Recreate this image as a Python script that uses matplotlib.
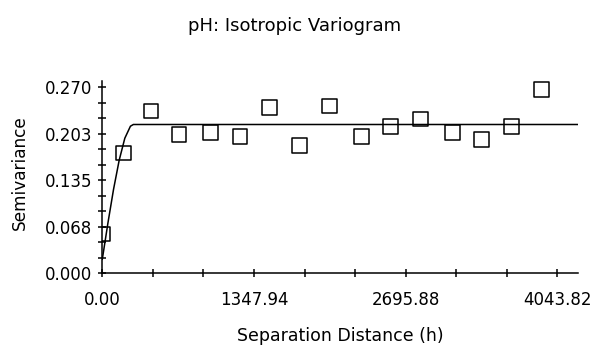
import matplotlib
matplotlib.use("Agg")
import matplotlib.pyplot as plt
from matplotlib.ticker import FixedLocator, FixedFormatter

plt.rcParams['font.family'] = ['DejaVu Sans']

# Experimental semivariogram (lag distance, semivariance)
lag_distance = [0, 190, 433, 682, 961, 1225, 1488, 1755, 2020, 2302, 2562,
                2829, 3111, 3372, 3636, 3903]
semivariance = [0.057, 0.1744, 0.2354, 0.2018, 0.2042, 0.1988, 0.2408, 0.1857,
                0.2427, 0.1988, 0.2130, 0.2237, 0.2047, 0.1940, 0.2130, 0.2671]

# Fitted model curve
model_distance = [0, 50, 100, 150, 200, 250, 276, 4230]
model_gamma = [0.020, 0.0727, 0.1218, 0.164, 0.196, 0.2135, 0.216, 0.216]

x_major = [0.00, 1347.94, 2695.88, 4043.82]
x_major_labels = ["0.00", "1347.94", "2695.88", "4043.82"]
y_major = [0.0, 0.0675, 0.135, 0.2025, 0.270]
y_major_labels = ["0.000", "0.068", "0.135", "0.203", "0.270"]

title = "pH: Isotropic Variogram"
xlabel = "Separation Distance (h)"
ylabel = "Semivariance"

W, H = 596, 347
fig = plt.figure(figsize=(W / 100, H / 100), dpi=100)
ax_l, ax_r, ax_t, ax_b = 102.3, 578.3, 80.7, 273.0
ax = fig.add_axes([ax_l / W, 1 - ax_b / H, (ax_r - ax_l) / W, (ax_b - ax_t) / H])

ax.plot(model_distance, model_gamma, color='black', lw=1.1, zorder=2)
ax.scatter(lag_distance, semivariance, marker='s', s=10.5 ** 2,
           facecolors='none', edgecolors='black', linewidths=1.1, zorder=3,
           clip_on=True)

ax.set_xlim(0, 4230)
ax.set_ylim(0, 0.2797)

for s in ['top', 'right']:
    ax.spines[s].set_visible(False)
for s in ['left', 'bottom']:
    ax.spines[s].set_linewidth(1.1)
    ax.spines[s].set_zorder(4)

x_minor = [x_major[0] + i * (x_major[1] - x_major[0]) / 3 for i in range(10)]
y_minor = [i * 0.0225 for i in range(13)]
ax.xaxis.set_major_locator(FixedLocator(x_major))
ax.xaxis.set_major_formatter(FixedFormatter(x_major_labels))
ax.xaxis.set_minor_locator(FixedLocator(x_minor))
ax.yaxis.set_major_locator(FixedLocator(y_major))
ax.yaxis.set_major_formatter(FixedFormatter(y_major_labels))
ax.yaxis.set_minor_locator(FixedLocator(y_minor))

ax.tick_params(axis='both', which='both', direction='inout', length=6,
               width=1.1, color='black')
ax.tick_params(axis='x', which='major', labelsize=12, pad=10)
ax.tick_params(axis='y', which='major', labelsize=12, pad=4.5)

fig.text(294.5 / W, 1 - 31 / H, title, ha='center', va='baseline', fontsize=13)
fig.text((ax_l + ax_r) / 2 / W, 1 - 336 / H, xlabel, ha='center', va='center',
         fontsize=12.5)
fig.text(20 / W, 1 - 172.5 / H, ylabel, ha='center', va='center',
         rotation=90, fontsize=12.2)

fig.savefig("out.png", dpi=100)
